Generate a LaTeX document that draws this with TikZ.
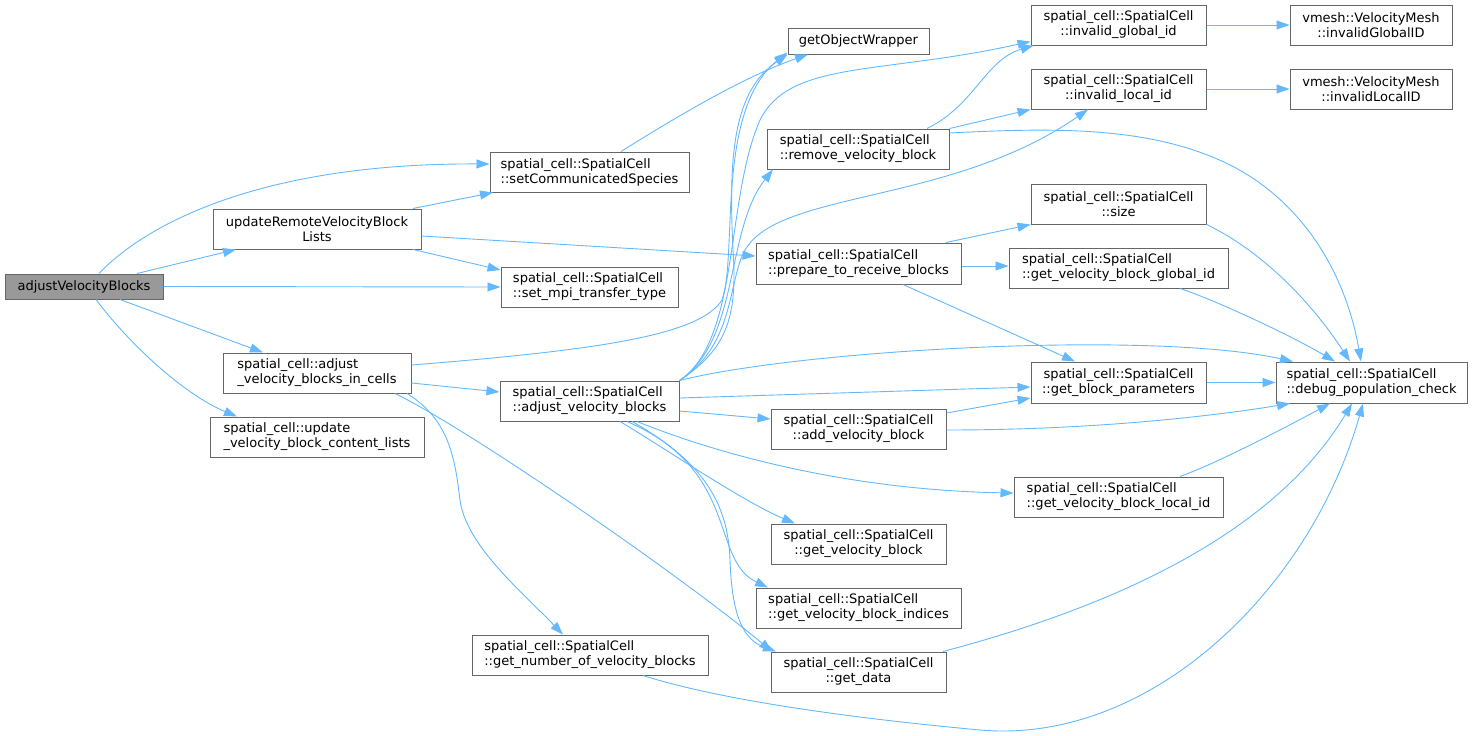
\documentclass[tikz,border=0pt]{standalone}
\usepackage{fontspec}
\setmainfont{DejaVu Sans}
\usetikzlibrary{arrows.meta}
\definecolor{edgec}{HTML}{63B8FF}
\definecolor{bord}{HTML}{666666}
\definecolor{rootf}{HTML}{999999}
\begin{document}
\begin{tikzpicture}[x=1pt,y=-1pt,
 box/.style={draw=bord, line width=1pt, fill=white, inner sep=0pt, font=\fontsize{13}{15}\selectfont, text=black},
 bl/.style={box, align=left},
 bc/.style={box, align=center},
 e/.style={draw=edgec, line width=0.9pt, -{Triangle[length=13pt,width=9pt]}}]
\useasboundingbox (0,0) rectangle (1472,736);
% nodes
\node[box, fill=rootf, minimum width=158pt, minimum height=25pt] (AVB) at (84,286.5) {adjustVelocityBlocks};
\node[bc, minimum width=208pt, minimum height=40pt] (UR) at (317,229) {updateRemoteVelocityBlock\\Lists};
\node[bl, minimum width=188pt, minimum height=40pt] (IC) at (317,373) {spatial\_cell::adjust\\\_velocity\_blocks\_in\_cells};
\node[bl, minimum width=214pt, minimum height=40pt] (UC) at (317,437) {spatial\_cell::update\\\_velocity\_block\_content\_lists};
\node[bl, minimum width=199pt, minimum height=40pt] (SC) at (589.5,172) {spatial\_cell::SpatialCell\\::setCommunicatedSpecies};
\node[bl, minimum width=177pt, minimum height=40pt] (SM) at (589.5,287) {spatial\_cell::SpatialCell\\::set\_mpi\_transfer\_type};
\node[box, minimum width=141pt, minimum height=26pt] (GOW) at (858.5,41) {getObjectWrapper};
\node[bl, minimum width=182pt, minimum height=40pt] (RVB) at (858,149) {spatial\_cell::SpatialCell\\::remove\_velocity\_block};
\node[bl, minimum width=205pt, minimum height=41pt] (PR) at (858.5,263.5) {spatial\_cell::SpatialCell\\::prepare\_to\_receive\_blocks};
\node[bl, minimum width=179pt, minimum height=40pt] (AJ) at (589.5,401) {spatial\_cell::SpatialCell\\::adjust\_velocity\_blocks};
\node[bc, minimum width=175pt, minimum height=40pt] (ADD) at (858.5,429) {spatial\_cell::SpatialCell\\::add\_velocity\_block};
\node[bc, minimum width=175pt, minimum height=40pt] (GVB) at (858.5,544) {spatial\_cell::SpatialCell\\::get\_velocity\_block};
\node[bl, minimum width=205pt, minimum height=40pt] (GVBI) at (858.5,608) {spatial\_cell::SpatialCell\\::get\_velocity\_block\_indices};
\node[bc, minimum width=175pt, minimum height=40pt] (GD) at (858.5,672) {spatial\_cell::SpatialCell\\::get\_data};
\node[bl, minimum width=236pt, minimum height=40pt] (GN) at (590,655) {spatial\_cell::SpatialCell\\::get\_number\_of\_velocity\_blocks};
\node[bc, minimum width=175pt, minimum height=40pt] (IG) at (1118.5,25) {spatial\_cell::SpatialCell\\::invalid\_global\_id};
\node[bc, minimum width=162pt, minimum height=40pt] (IGID) at (1371,25) {vmesh::VelocityMesh\\::invalidGlobalID};
\node[bc, minimum width=175pt, minimum height=40pt] (IL) at (1118.5,89) {spatial\_cell::SpatialCell\\::invalid\_local\_id};
\node[bc, minimum width=162pt, minimum height=40pt] (ILID) at (1371,89) {vmesh::VelocityMesh\\::invalidLocalID};
\node[bc, minimum width=175pt, minimum height=40pt] (SZ) at (1118.5,204) {spatial\_cell::SpatialCell\\::size};
\node[bl, minimum width=219pt, minimum height=40pt] (GGID) at (1118.5,268) {spatial\_cell::SpatialCell\\::get\_velocity\_block\_global\_id};
\node[bc, minimum width=175pt, minimum height=41pt] (GBP) at (1118.5,382.5) {spatial\_cell::SpatialCell\\::get\_block\_parameters};
\node[bl, minimum width=191pt, minimum height=41pt] (DBG) at (1371.5,382.5) {spatial\_cell::SpatialCell\\::debug\_population\_check};
\node[bl, minimum width=209pt, minimum height=40pt] (GLID) at (1118.5,497) {spatial\_cell::SpatialCell\\::get\_velocity\_block\_local\_id};
% edges
\draw[e] ([xshift=15pt]AVB.north) .. controls (140,230) and (250,163) .. ([yshift=8pt]SC.west);
\draw[e] ([xshift=53pt]AVB.north) -- ([xshift=-81pt]UR.south);
\draw[e] (AVB.east) -- (SM.west);
\draw[e] ([xshift=36pt]AVB.south) -- ([xshift=-54pt]IC.north);
\draw[e] ([xshift=12pt]AVB.south) .. controls (130,345) and (185,395) .. ([xshift=-80pt]UC.north);
\draw[e] ([xshift=96pt]UR.north) -- ([xshift=-96.5pt]SC.south);
\draw[e] ([yshift=-7pt]UR.east) -- ([yshift=7.5pt]PR.west);
\draw[e] ([xshift=96pt]UR.south) -- ([yshift=17pt]SM.west);
\draw[e] ([xshift=31.5pt]SC.north) .. controls (665,124) and (740,78) .. ([xshift=-50.5pt]GOW.south);
\draw[e] ([yshift=8pt]IC.east) .. controls (600,350) and (700,335) .. (722,300) .. controls (738,255) and (715,110) .. ([yshift=2pt]GOW.south west);
\draw[e] ([yshift=-10pt]IC.east) -- ([yshift=9pt]AJ.west);
\draw[e] ([xshift=90pt]IC.south) .. controls (450,420) and (455,460) .. (460,500) .. controls (466,545) and (520,590) .. ([xshift=-27pt]GN.north);
\draw[e] ([xshift=78pt]IC.south) .. controls (470,430) and (680,575) .. ([xshift=-86.5pt]GD.north);
\draw[e] (AJ.north east) .. controls (725,350) and (738,320) .. (733,250) .. controls (728,150) and (735,90) .. (GOW.south west);
\draw[e] (AJ.north east) .. controls (740,340) and (725,200) .. (760,120) .. controls (790,60) and (880,75) .. ([yshift=4pt]IG.south west);
\draw[e] (AJ.north east) .. controls (740,340) and (725,230) .. ([xshift=-85pt]RVB.south);
\draw[e] (AJ.north east) .. controls (735,345) and (728,280) .. (745,250) .. controls (780,190) and (950,205) .. ([xshift=-30.5pt]IL.south);
\draw[e] (AJ.north east) .. controls (800,350) and (1150,330) .. ([xshift=-78.5pt]DBG.north);
\draw[e] ([yshift=3pt]AJ.east) -- ([yshift=-4.5pt]GBP.west);
\draw[e] ([yshift=-10pt]AJ.east) -- ([yshift=10pt]ADD.west);
\draw[e] ([xshift=47.5pt]AJ.south) .. controls (720,455) and (850,490) .. ([yshift=4pt]GLID.west);
\draw[e] ([xshift=30.5pt]AJ.south) .. controls (660,445) and (740,500) .. ([xshift=-63.5pt]GVB.north);
\draw[e] ([xshift=37.5pt]AJ.south) .. controls (740,470) and (710,560) .. ([xshift=-90.5pt]GVBI.north);
\draw[e] ([xshift=42.5pt]AJ.south) .. controls (700,460) and (728,500) .. (730,560) .. controls (732,620) and (745,640) .. ([xshift=-82.5pt]GD.north);
\draw[e] ([xshift=69pt]RVB.north) .. controls (975,105) and (985,60) .. ([xshift=3pt]IG.south west);
\draw[e] (RVB.north east) -- (IL.south west);
\draw[e] ([yshift=16pt]RVB.east) .. controls (1050,128) and (1150,125) .. (1230,165) .. controls (1300,200) and (1345,270) .. ([xshift=-10.5pt]DBG.north);
\draw[e] (IG.east) -- (IGID.west);
\draw[e] (IL.east) -- (ILID.west);
\draw[e] ([xshift=87.5pt]PR.north) -- (SZ.south west);
\draw[e] ([yshift=-2.5pt]PR.east) -- ([yshift=2pt]GGID.west);
\draw[e] ([xshift=44.5pt]PR.south) -- ([xshift=-43.5pt]GBP.north);
\draw[e] (SZ.south east) .. controls (1260,250) and (1310,300) .. ([xshift=-21.5pt]DBG.north);
\draw[e] ([xshift=61.5pt]GGID.south) .. controls (1215,300) and (1290,335) .. ([xshift=-36.5pt]DBG.north);
\draw[e] (GBP.east) -- (DBG.west);
\draw[e] ([yshift=16pt]ADD.east) -- ([yshift=-15.5pt]GBP.west);
\draw[e] ([yshift=-1pt]ADD.east) .. controls (1100,430) and (1220,415) .. ([xshift=-81.5pt]DBG.south);
\draw[e] ([xshift=61.5pt]GLID.north) .. controls (1220,462) and (1290,425) .. ([xshift=-41.5pt]DBG.south);
\draw[e] ([xshift=84.5pt]GD.north) .. controls (1100,610) and (1270,540) .. ([xshift=-19.5pt]DBG.south);
\draw[e] ([xshift=53pt]GN.south) .. controls (720,700) and (850,718) .. (980,730) .. controls (1150,745) and (1310,590) .. ([xshift=-8.5pt]DBG.south);
\end{tikzpicture}
\end{document}
